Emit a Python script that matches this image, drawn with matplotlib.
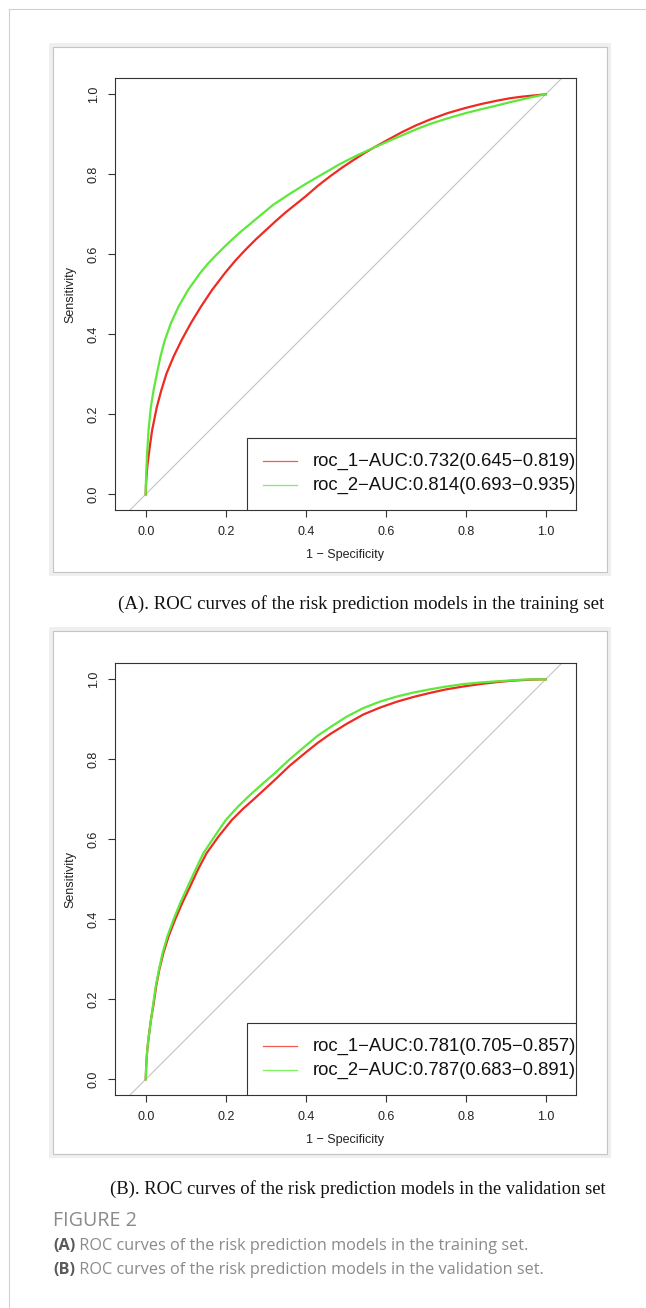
import matplotlib
matplotlib.use('Agg')
import matplotlib.pyplot as plt
from matplotlib.patches import Rectangle
from matplotlib.lines import Line2D

# ROC points (training set)
train_fpr_1 = [0.000, 0.0005, 0.002, 0.004, 0.007, 0.011, 0.016, 0.022, 0.028, 0.039, 0.052,
               0.070, 0.090, 0.113, 0.138, 0.166, 0.198, 0.223, 0.250, 0.275, 0.300, 0.325,
               0.350, 0.375, 0.400, 0.430, 0.461, 0.490, 0.520, 0.545, 0.569, 0.605, 0.640,
               0.675, 0.711, 0.755, 0.800, 0.840, 0.878, 0.910, 0.940, 0.970, 1.000]
train_tpr_1 = [0.000, 0.020, 0.045, 0.070, 0.094, 0.125, 0.160, 0.190, 0.219, 0.260, 0.302,
               0.345, 0.386, 0.428, 0.469, 0.511, 0.553, 0.583, 0.612, 0.637, 0.660, 0.683,
               0.705, 0.725, 0.745, 0.771, 0.795, 0.816, 0.836, 0.852, 0.866, 0.886, 0.905,
               0.922, 0.937, 0.953, 0.966, 0.976, 0.984, 0.990, 0.994, 0.997, 1.000]
train_fpr_2 = [0.000, 0.0003, 0.001, 0.002, 0.003, 0.005, 0.007, 0.010, 0.013, 0.020, 0.028,
               0.037, 0.048, 0.063, 0.082, 0.106, 0.136, 0.155, 0.175, 0.195, 0.215, 0.237,
               0.260, 0.290, 0.319, 0.360, 0.400, 0.443, 0.486, 0.528, 0.569, 0.605, 0.640,
               0.675, 0.711, 0.755, 0.800, 0.840, 0.878, 0.910, 0.940, 0.970, 1.000]
train_tpr_2 = [0.000, 0.020, 0.045, 0.070, 0.094, 0.127, 0.160, 0.190, 0.219, 0.262, 0.302,
               0.345, 0.386, 0.428, 0.469, 0.511, 0.553, 0.576, 0.597, 0.617, 0.636, 0.656,
               0.675, 0.700, 0.724, 0.751, 0.776, 0.801, 0.826, 0.847, 0.866, 0.882, 0.897,
               0.912, 0.926, 0.940, 0.953, 0.963, 0.972, 0.980, 0.987, 0.994, 1.000]

# ROC points (validation set)
valid_fpr_1 = [0.000, 0.0015, 0.004, 0.008, 0.013, 0.020, 0.026, 0.034, 0.044, 0.057, 0.073,
               0.091, 0.111, 0.130, 0.152, 0.182, 0.215, 0.243, 0.270, 0.295, 0.319, 0.360,
               0.400, 0.430, 0.461, 0.503, 0.544, 0.585, 0.628, 0.670, 0.711, 0.752, 0.794,
               0.836, 0.878, 0.910, 0.940, 0.970, 1.000]
valid_tpr_1 = [0.000, 0.040, 0.075, 0.110, 0.148, 0.190, 0.232, 0.274, 0.315, 0.357, 0.398,
               0.440, 0.482, 0.523, 0.565, 0.607, 0.648, 0.676, 0.700, 0.723, 0.745, 0.784,
               0.817, 0.841, 0.863, 0.889, 0.912, 0.929, 0.944, 0.956, 0.966, 0.975, 0.982,
               0.988, 0.993, 0.996, 0.998, 0.9995, 1.000]
valid_fpr_2 = [0.000, 0.0015, 0.004, 0.008, 0.013, 0.019, 0.025, 0.033, 0.042, 0.054, 0.069,
               0.086, 0.105, 0.124, 0.144, 0.172, 0.200, 0.230, 0.260, 0.290, 0.319, 0.360,
               0.400, 0.430, 0.461, 0.503, 0.544, 0.585, 0.628, 0.670, 0.711, 0.752, 0.794,
               0.836, 0.878, 0.910, 0.940, 0.970, 1.000]
valid_tpr_2 = [0.000, 0.040, 0.075, 0.110, 0.148, 0.190, 0.232, 0.274, 0.315, 0.357, 0.398,
               0.440, 0.482, 0.523, 0.565, 0.607, 0.648, 0.681, 0.710, 0.737, 0.762, 0.800,
               0.834, 0.859, 0.880, 0.907, 0.928, 0.944, 0.957, 0.967, 0.975, 0.982, 0.988,
               0.992, 0.995, 0.997, 0.999, 1.000, 1.000]

train_labels = ['roc_1\u2212AUC:0.732(0.645\u22120.819)', 'roc_2\u2212AUC:0.814(0.693\u22120.935)']
valid_labels = ['roc_1\u2212AUC:0.781(0.705\u22120.857)', 'roc_2\u2212AUC:0.787(0.683\u22120.891)']
ticks = [0.0, 0.2, 0.4, 0.6, 0.8, 1.0]
tick_labels = ['0.0', '0.2', '0.4', '0.6', '0.8', '1.0']

caption_a = '(A). ROC curves of the risk prediction models in the training set'
caption_b = '(B). ROC curves of the risk prediction models in the validation set'
fig_title = 'FIGURE 2'
fig_lines = [('(A)', ' ROC curves of the risk prediction models in the training set.'),
             ('(B)', ' ROC curves of the risk prediction models in the validation set.')]

RED = '#ee2a22'
GREEN = '#5ee83a'
SANS = 'Liberation Sans'

W, H = 646, 1308
fig = plt.figure(figsize=(W / 100, H / 100), dpi=100)
renderer = fig.canvas.get_renderer()


def fx(x):
    return x / W


def fy(y):
    return 1 - y / H


def fit_text(x, y, s, width, **kw):
    # size the text so that it spans the given pixel width
    t = fig.text(fx(x), fy(y), s, fontsize=10, **kw)
    w = t.get_window_extent(renderer).width
    t.set_fontsize(10 * width / w)
    return t


# page edge lines
fig.add_artist(Line2D([fx(9.3), fx(W)], [fy(9.3), fy(9.3)], color='#d0d0d0', lw=0.8))
fig.add_artist(Line2D([fx(9.3), fx(9.3)], [fy(9.3), fy(H)], color='#d0d0d0', lw=0.8))


def frame(top, bottom):
    fig.add_artist(Rectangle((fx(49), fy(bottom + 4)), (611 - 49) / W, (bottom - top + 8) / H,
                             facecolor='#efefef', edgecolor='none', zorder=0))
    fig.add_artist(Rectangle((fx(53), fy(bottom)), (607 - 53) / W, (bottom - top) / H,
                             facecolor='white', edgecolor='#c4c4c4', lw=0.8, zorder=0))


def roc_panel(top, fpr1, tpr1, fpr2, tpr2, labels):
    ax = fig.add_axes([fx(115), fy(top + 432), 461 / W, 432 / H])
    ax.axline((0, 0), (1, 1), color='#c4c4c4', lw=0.8, zorder=1)
    ax.plot(fpr1, tpr1, color=RED, lw=1.6, zorder=3)
    ax.plot(fpr2, tpr2, color=GREEN, lw=1.6, zorder=3)
    ax.set_xlim(-0.0768, 1.0758)
    ax.set_ylim(-0.04, 1.04)
    ax.set_xticks(ticks)
    ax.set_xticklabels(tick_labels, family=SANS, fontsize=9, color='#222222')
    ax.set_yticks(ticks)
    ax.set_yticklabels(tick_labels, family=SANS, fontsize=9, color='#222222',
                       rotation=90, va='center')
    ax.tick_params(length=5, width=0.8, color='#333333', pad=6)
    for sp in ax.spines.values():
        sp.set_color('#333333')
        sp.set_linewidth(0.8)
    ax.set_xlabel('1 \u2212 Specificity', family=SANS, fontsize=9, color='#222222')
    ax.xaxis.set_label_coords(0.5, -0.1035)
    ax.xaxis.label.set_va('center')
    ax.set_ylabel('Sensitivity', family=SANS, fontsize=9, color='#222222')
    ax.yaxis.set_label_coords(-0.0961, 0.5)
    ax.yaxis.label.set_va('center')

    # legend box, bottom right as in R's legend()
    ax.add_patch(Rectangle((0.287, 0), 0.713, 0.1667, transform=ax.transAxes,
                           facecolor='white', edgecolor='#333333', lw=0.8, zorder=4))
    for lab, col, yy in zip(labels, ['#f05a50', '#7cf060'], [0.1135, 0.0586]):
        ax.add_line(Line2D([0.321, 0.395], [yy, yy], transform=ax.transAxes,
                           color=col, lw=0.9, zorder=5))
        ax.text(0.4289, yy, lab, transform=ax.transAxes, family=SANS, fontsize=13.3,
                va='center', ha='left', color='#111111', zorder=5, clip_on=False)
    return ax


frame(47, 572)
roc_panel(78.3, train_fpr_1, train_tpr_1, train_fpr_2, train_tpr_2, train_labels)
frame(631, 1154)
roc_panel(663.3, valid_fpr_1, valid_tpr_1, valid_fpr_2, valid_tpr_2, valid_labels)

fit_text(118, 604, caption_a, 487, family='Liberation Serif', va='center', color='#111111')
fit_text(110, 1189, caption_b, 496, family='Liberation Serif', va='center', color='#111111')

fit_text(53, 1221, fig_title, 84, family='Open Sans', va='center', color='#8a8a8a')
widths = [475, 487]
for (head, rest), yy, wd in zip(fig_lines, [1246, 1270], widths):
    t = fit_text(53, yy, head + rest, wd, family='Open Sans', va='center', color='#8a8a8a')
    fs = t.get_fontsize()
    t.remove()
    h = fig.text(fx(53), fy(yy), head, fontsize=fs, family='Open Sans', fontweight='bold',
                 va='center', color='#5a5a5a')
    hw = h.get_window_extent(renderer).width
    fig.text(fx(53 + hw), fy(yy), rest, fontsize=fs, family='Open Sans',
             va='center', color='#8a8a8a')

fig.savefig('out.png', dpi=100)
plt.close()
